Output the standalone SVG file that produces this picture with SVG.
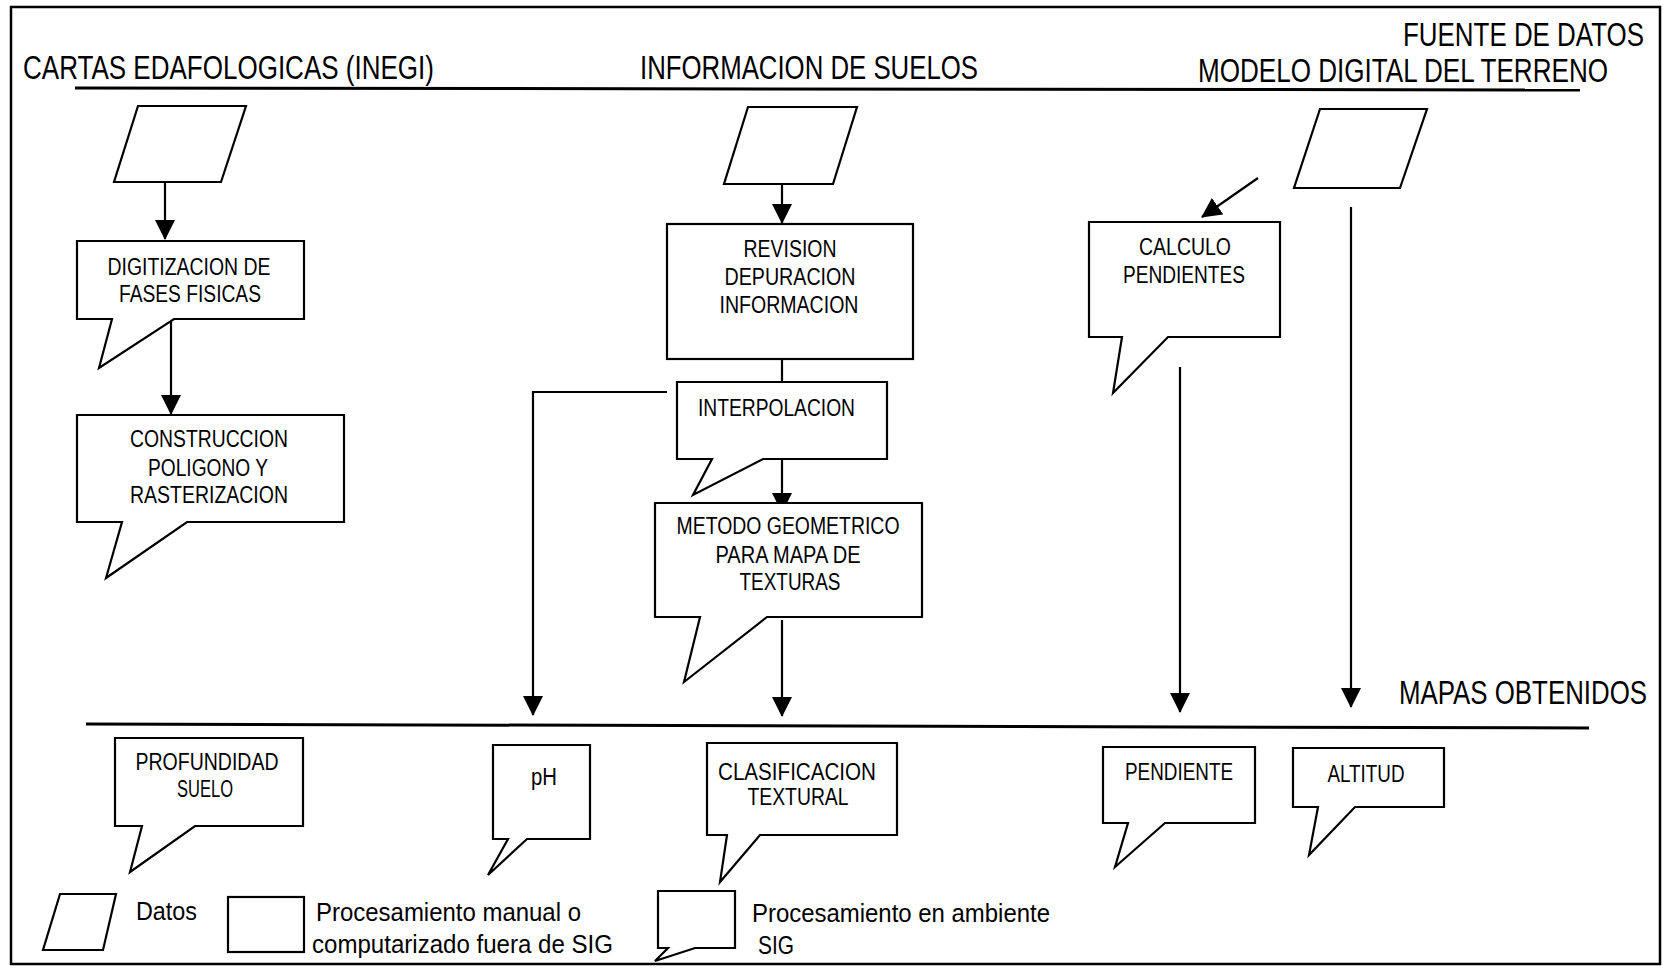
<svg xmlns="http://www.w3.org/2000/svg" width="1663" height="968" viewBox="0 0 1663 968">
<style>
text{font-family:"Liberation Sans",Arial,sans-serif;fill:#000}
.h{font-size:33px}
.b{font-size:23px}
.l{font-size:26px}
.c{text-anchor:middle}
.e{text-anchor:end}
.shape{fill:#fff;stroke:#000;stroke-width:2.2;stroke-linejoin:miter}
.conn{fill:none;stroke:#000;stroke-width:2.2}
.rule{fill:none;stroke:#000;stroke-width:3}
</style>
<defs>
<marker id="ah" markerWidth="20" markerHeight="20" viewBox="0 0 20 20" refX="19" refY="10" orient="auto" markerUnits="userSpaceOnUse">
<path d="M0,0 L20,10 L0,20 Z" fill="#000"/>
</marker>
</defs>
<rect x="0" y="0" width="1663" height="968" fill="#fff"/>
<rect x="11" y="7" width="1649" height="957" fill="none" stroke="#000" stroke-width="2.5"/>

<g id="headers">
<text class="h" x="23" y="79" textLength="411" lengthAdjust="spacingAndGlyphs">CARTAS EDAFOLOGICAS (INEGI)</text>
<text class="h" x="640" y="79" textLength="338" lengthAdjust="spacingAndGlyphs">INFORMACION DE SUELOS</text>
<text class="h e" x="1644" y="46" textLength="241" lengthAdjust="spacingAndGlyphs">FUENTE DE DATOS</text>
<text class="h e" x="1608" y="82" textLength="410" lengthAdjust="spacingAndGlyphs">MODELO DIGITAL DEL TERRENO</text>
<text class="h e" x="1647" y="704" textLength="248" lengthAdjust="spacingAndGlyphs">MAPAS OBTENIDOS</text>
<line class="rule" x1="75" y1="88" x2="1580" y2="90"/>
<line class="rule" x1="86" y1="724" x2="1589" y2="728"/>
</g>

<g id="connectors">
<line class="conn" x1="165" y1="182" x2="165" y2="239" marker-end="url(#ah)"/>
<line class="conn" x1="171" y1="319" x2="171" y2="414" marker-end="url(#ah)"/>
<line class="conn" x1="782" y1="184" x2="782" y2="223" marker-end="url(#ah)"/>
<line class="conn" x1="782" y1="359" x2="782" y2="382"/>
<polyline class="conn" points="667,392 533,392 533,715" marker-end="url(#ah)"/>
<line class="conn" x1="782" y1="459" x2="782" y2="512" marker-end="url(#ah)"/>
<line class="conn" x1="782" y1="620" x2="782" y2="716" marker-end="url(#ah)"/>
<line class="conn" x1="1258" y1="178" x2="1202" y2="217" marker-end="url(#ah)"/>
<line class="conn" x1="1180" y1="367" x2="1180" y2="712" marker-end="url(#ah)"/>
<line class="conn" x1="1351" y1="207" x2="1351" y2="707" marker-end="url(#ah)"/>
</g>

<g id="data-cartas">
<polygon class="shape" points="138,106 246,106 221,182 114,182"/>
</g>
<g id="data-suelos">
<polygon class="shape" points="748,107 857,107 833,184 724,184"/>
</g>
<g id="data-mdt">
<polygon class="shape" points="1320,109 1427,109 1400,188 1294,188"/>
</g>

<g id="digitizacion">
<path class="shape" d="M77,241 H304 V319 H174 L99,368 L112,319 H77 Z"/>
<text class="b c" x="189" y="275" textLength="163" lengthAdjust="spacingAndGlyphs">DIGITIZACION DE</text>
<text class="b c" x="190" y="302" textLength="142" lengthAdjust="spacingAndGlyphs">FASES FISICAS</text>
</g>

<g id="construccion">
<path class="shape" d="M77,415 H344 V522 H187 L106,578 L122,522 H77 Z"/>
<text class="b c" x="209" y="447" textLength="158" lengthAdjust="spacingAndGlyphs">CONSTRUCCION</text>
<text class="b c" x="208" y="476" textLength="120" lengthAdjust="spacingAndGlyphs">POLIGONO Y</text>
<text class="b c" x="209" y="503" textLength="158" lengthAdjust="spacingAndGlyphs">RASTERIZACION</text>
</g>

<g id="revision">
<rect class="shape" x="667" y="224" width="246" height="135"/>
<text class="b c" x="790" y="257" textLength="93" lengthAdjust="spacingAndGlyphs">REVISION</text>
<text class="b c" x="790" y="285" textLength="131" lengthAdjust="spacingAndGlyphs">DEPURACION</text>
<text class="b c" x="789" y="313" textLength="139" lengthAdjust="spacingAndGlyphs">INFORMACION</text>
</g>

<g id="interpolacion">
<path class="shape" d="M677,382 H887 V459 H763 L693,495 L712,459 H677 Z"/>
<text class="b" x="698" y="416" textLength="157" lengthAdjust="spacingAndGlyphs">INTERPOLACION</text>
</g>

<g id="metodo">
<path class="shape" d="M655,503 H922 V617 H767 L684,682 L700,617 H655 Z"/>
<text class="b c" x="788" y="534" textLength="223" lengthAdjust="spacingAndGlyphs">METODO GEOMETRICO</text>
<text class="b c" x="788" y="563" textLength="145" lengthAdjust="spacingAndGlyphs">PARA MAPA DE</text>
<text class="b c" x="790" y="590" textLength="101" lengthAdjust="spacingAndGlyphs">TEXTURAS</text>
</g>

<g id="calculo">
<path class="shape" d="M1089,222 H1280 V337 H1168 L1113,393 L1122,337 H1089 Z"/>
<text class="b c" x="1185" y="255" textLength="92" lengthAdjust="spacingAndGlyphs">CALCULO</text>
<text class="b c" x="1184" y="283" textLength="122" lengthAdjust="spacingAndGlyphs">PENDIENTES</text>
</g>

<g id="profundidad">
<path class="shape" d="M115,738 H303 V826 H195 L130,872 L142,826 H115 Z"/>
<text class="b c" x="207" y="770" textLength="143" lengthAdjust="spacingAndGlyphs">PROFUNDIDAD</text>
<text class="b c" x="205" y="797" textLength="56" lengthAdjust="spacingAndGlyphs">SUELO</text>
</g>

<g id="ph">
<path class="shape" d="M493,745 H590 V839 H527 L488,875 L508,839 H493 Z"/>
<text class="b c" x="544" y="785" textLength="26" lengthAdjust="spacingAndGlyphs">pH</text>
</g>

<g id="clasificacion">
<path class="shape" d="M707,743 H897 V835 H760 L720,882 L727,835 H707 Z"/>
<text class="b c" x="797" y="780" textLength="158" lengthAdjust="spacingAndGlyphs">CLASIFICACION</text>
<text class="b c" x="798" y="805" textLength="101" lengthAdjust="spacingAndGlyphs">TEXTURAL</text>
</g>

<g id="pendiente">
<path class="shape" d="M1103,747 H1255 V823 H1165 L1115,867 L1128,823 H1103 Z"/>
<text class="b c" x="1179" y="780" textLength="108" lengthAdjust="spacingAndGlyphs">PENDIENTE</text>
</g>

<g id="altitud">
<path class="shape" d="M1293,748 H1444 V807 H1355 L1309,855 L1318,807 H1293 Z"/>
<text class="b c" x="1366" y="782" textLength="77" lengthAdjust="spacingAndGlyphs">ALTITUD</text>
</g>

<g id="legend">
<polygon class="shape" points="60,894 116,894 103,950 43,950"/>
<text class="l" x="136" y="920" textLength="61" lengthAdjust="spacingAndGlyphs">Datos</text>
<rect class="shape" x="228" y="897" width="76" height="55"/>
<text class="l" x="316" y="921" textLength="265" lengthAdjust="spacingAndGlyphs">Procesamiento manual o</text>
<text class="l" x="312" y="953" textLength="301" lengthAdjust="spacingAndGlyphs">computarizado fuera de SIG</text>
<path class="shape" d="M658,891 H735 V948 H695 L655,961 L668,948 H658 Z"/>
<text class="l" x="752" y="922" textLength="298" lengthAdjust="spacingAndGlyphs">Procesamiento en ambiente</text>
<text class="l" x="758" y="954" textLength="36" lengthAdjust="spacingAndGlyphs">SIG</text>
</g>
</svg>
